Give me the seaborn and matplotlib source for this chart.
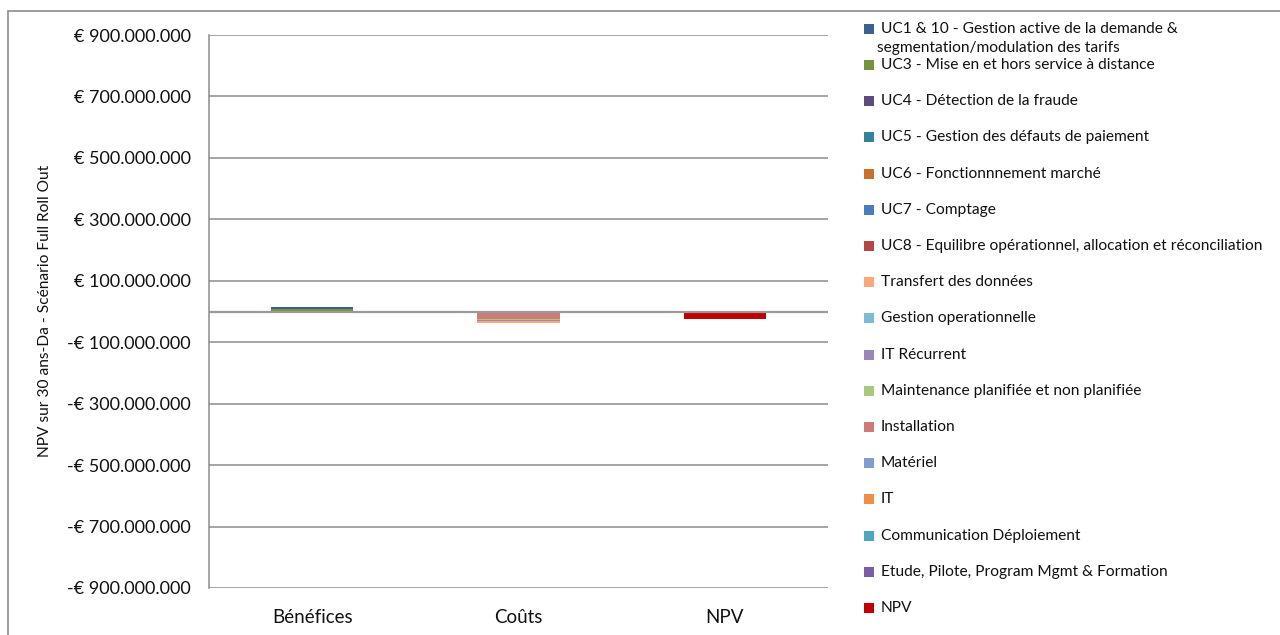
import matplotlib
matplotlib.use("Agg")
import matplotlib.pyplot as plt
from matplotlib.patches import Rectangle
from matplotlib.ticker import FuncFormatter, FixedLocator
import seaborn as sns
import pandas as pd

sns.set_theme(style="white")
plt.rcParams["font.family"] = ["Lato", "DejaVu Sans"]

# Categories on the x axis
categories = ["Bénéfices", "Coûts", "NPV"]

# Series names in stacking order (first series sits next to the zero line)
series_names = [
    "NPV",
    "Etude, Pilote, Program Mgmt & Formation",
    "Communication Déploiement",
    "IT",
    "Matériel",
    "Installation",
    "Maintenance planifiée et non planifiée",
    "IT Récurrent",
    "Gestion operationnelle",
    "Transfert des données",
    "UC8 - Equilibre opérationnel, allocation et réconciliation",
    "UC7 - Comptage",
    "UC6 - Fonctionnnement marché",
    "UC5 - Gestion des défauts de paiement",
    "UC4 - Détection de la fraude",
    "UC3 - Mise en et hors service à distance",
    "UC1 & 10 - Gestion active de la demande &\nsegmentation/modulation des tarifs",
]

series_colors = [
    "#C00000", "#7B5EA1", "#4BA6BF", "#EE8F45", "#809EC9", "#CD7A79",
    "#A9C97F", "#9B87B7", "#7CBCD4", "#F9A87A", "#B64545", "#4A7DB8",
    "#C7702F", "#31849B", "#5F4A7E", "#77933C", "#3B6091",
]

# Values in million euro for [Bénéfices, Coûts, NPV]
npv_values = [0, 0, -23.5]
etude_values = [0, -0.5, 0]
communication_values = [0, -0.3, 0]
it_values = [0, -0.8, 0]
materiel_values = [0, -4.0, 0]
installation_values = [0, -18.0, 0]
maintenance_values = [0, -3.0, 0]
it_recurrent_values = [0, -3.0, 0]
gestion_op_values = [0, -2.0, 0]
transfert_values = [0, -5.0, 0]
uc8_values = [0.3, 0, 0]
uc7_values = [0.5, 0, 0]
uc6_values = [0.3, 0, 0]
uc5_values = [0.5, 0, 0]
uc4_values = [0.5, 0, 0]
uc3_values = [5.0, 0, 0]
uc1_values = [6.0, 0, 0]

series_values = [
    npv_values, etude_values, communication_values, it_values, materiel_values,
    installation_values, maintenance_values, it_recurrent_values, gestion_op_values,
    transfert_values, uc8_values, uc7_values, uc6_values, uc5_values, uc4_values,
    uc3_values, uc1_values,
]

y_ticks = [-900, -700, -500, -300, -100, 100, 300, 500, 700, 900]
y_label = "NPV sur 30 ans-Da - Scénario Full Roll Out"

W, H = 1280, 635
fig = plt.figure(figsize=(W / 100, H / 100), dpi=100)
fig.patch.set_facecolor("white")

# outer chart frame
fig.patches.append(Rectangle((8 / W, -0.05), 1.2, 1 - 11 / H + 0.05,
                             transform=fig.transFigure, fill=False,
                             edgecolor="#8C8C8C", linewidth=1.2, zorder=0))

ax = fig.add_axes([209 / W, 1 - 588 / H, (828 - 209) / W, (588 - 35) / H])

grid_color = "#8C8C8C"
for yv in y_ticks:
    ax.axhline(yv * 1e6, color=grid_color, linewidth=1.1, zorder=0)
ax.axhline(0, color="#9A9A9A", linewidth=1.6, zorder=3)

pos_base = [0.0] * len(categories)
neg_base = [0.0] * len(categories)
for name, color, vals in zip(series_names, series_colors, series_values):
    bottoms = [pos_base[i] if v >= 0 else neg_base[i] for i, v in enumerate(vals)]
    df = pd.DataFrame({"cat": categories, "val": [v * 1e6 for v in vals]})
    sns.barplot(data=df, x="cat", y="val", order=categories, bottom=bottoms,
                color=color, width=0.4, saturation=1, ax=ax, zorder=2,
                linewidth=0, errorbar=None)
    for i, v in enumerate(vals):
        if v >= 0:
            pos_base[i] += v * 1e6
        else:
            neg_base[i] += v * 1e6

ax.set_ylim(-900e6, 900e6)
ax.set_xlim(-0.5, 2.5)
ax.yaxis.set_major_locator(FixedLocator([v * 1e6 for v in y_ticks]))


def euro_fmt(v, _pos):
    m = int(round(v))
    s = f"{abs(m):,}".replace(",", ".")
    return f"-€ {s}" if m < 0 else f"€ {s}"


ax.yaxis.set_major_formatter(FuncFormatter(euro_fmt))
ax.tick_params(axis="y", length=0, pad=13, labelsize=13, labelcolor="#111111")
ax.tick_params(axis="x", length=0, pad=15, labelsize=13.5, labelcolor="#111111")
ax.set_xlabel("")
ax.set_ylabel("")

for side in ["top", "right", "bottom"]:
    ax.spines[side].set_visible(False)
ax.spines["left"].set_color(grid_color)
ax.spines["left"].set_linewidth(1.1)

fig.text(45 / W, 1 - 311 / H, y_label, rotation=90, ha="center", va="center",
         fontsize=11.2, color="#111111")

# legend drawn top to bottom in reverse stacking order
legend_items = list(zip(series_names, series_colors))[::-1]
for k, (name, color) in enumerate(legend_items):
    yc = 29 if k == 0 else 65 + (k - 1) * 36.2
    fig.patches.append(Rectangle((864 / W, 1 - (yc + 5) / H), 10 / W, 10 / H,
                                 transform=fig.transFigure, facecolor=color,
                                 edgecolor="none"))
    lines = name.split("\n")
    fig.text(881 / W, 1 - yc / H, lines[0], ha="left", va="center",
             fontsize=11.2, color="#111111")
    if len(lines) > 1:
        fig.text(877 / W, 1 - (yc + 19) / H, lines[1], ha="left", va="center",
                 fontsize=11.2, color="#111111")

fig.savefig("out.png", dpi=100, facecolor="white")
